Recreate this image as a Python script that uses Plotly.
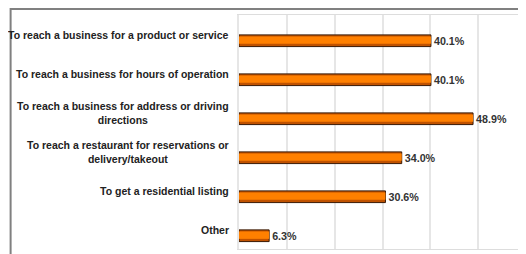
import plotly.graph_objects as go

categories = [
    "To reach a business for a product or service",
    "To reach a business for hours of operation",
    "To reach a business for address or driving<br>directions",
    "To reach a restaurant for reservations or<br>delivery/takeout",
    "To get a residential listing",
    "Other",
]
values = [40.1, 40.1, 48.9, 34.0, 30.6, 6.3]
value_labels = ["40.1%", "40.1%", "48.9%", "34.0%", "30.6%", "6.3%"]
x_ticks = [0, 10, 20, 30, 40, 50, 60]

# the page body adds an 8px margin, so the figure sits at (8, 8)
W, H = 518, 246
L, R, T, B = 231, 1, 7, 5
pw = W - L - R
ph = H - T - B

fig = go.Figure()
fig.add_trace(go.Bar(
    y=categories, x=values, orientation="h",
    width=0.3, offset=0.01,
    marker=dict(color="#c05200", line=dict(color="#3a1a05", width=1)),
    text=value_labels, textposition="outside", cliponaxis=False,
    textfont=dict(family="Liberation Sans", size=11, color="#333333", weight="bold"),
    hoverinfo="skip",
))
fig.add_trace(go.Bar(
    y=categories, x=values, orientation="h",
    width=0.19, offset=0.05,
    marker=dict(color="#FF8000", line=dict(width=0)),
    hoverinfo="skip",
))

for c in categories:
    fig.add_annotation(
        x=-8 / pw, xref="paper", y=c, yref="y",
        text=c, showarrow=False, xanchor="right", yanchor="middle", align="center",
        font=dict(family="Liberation Sans", size=10.5, color="#222222", weight="bold"),
    )

# outer frame along the figure edge
fig.add_shape(type="rect", xref="paper", yref="paper",
              x0=(1 - L) / pw, x1=(W + 5 - L) / pw,
              y0=(-B - 5) / ph, y1=(ph + T - 1) / ph,
              line=dict(color="#808080", width=2), layer="below")

fig.update_layout(
    width=W, height=H,
    margin=dict(l=L, r=R, t=T, b=B),
    paper_bgcolor="white", plot_bgcolor="white",
    showlegend=False, barmode="overlay",
    xaxis=dict(range=[0, pw / 4.82], tickvals=x_ticks, showticklabels=False,
               showgrid=True, gridcolor="#e6e6e6", gridwidth=1.5,
               zeroline=False, showline=True, linecolor="#dddddd", linewidth=1, mirror=True),
    yaxis=dict(autorange="reversed", showticklabels=False, showgrid=False,
               zeroline=False, showline=True, linecolor="#e6e6e6", linewidth=1.5, mirror=True),
)

fig.write_html("out.html")
